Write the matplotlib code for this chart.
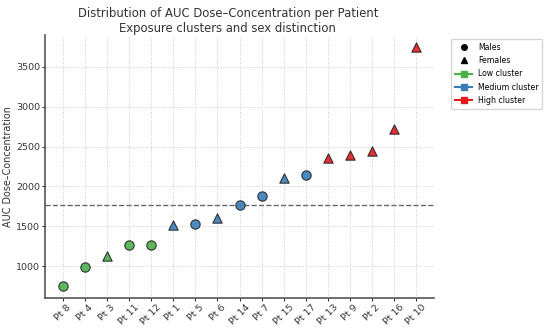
import numpy as np
import matplotlib
matplotlib.use("Agg")
import matplotlib.pyplot as plt
from matplotlib.lines import Line2D

# Data (sorted by AUC)
patients = ["Pt 8", "Pt 4", "Pt 3", "Pt 11", "Pt 12", "Pt 1", "Pt 5", "Pt 6", "Pt 14",
            "Pt 7", "Pt 15", "Pt 17", "Pt 13", "Pt 9", "Pt 2", "Pt 16", "Pt 10"]
auc = [750, 990, 1130, 1265, 1265, 1510, 1525, 1605, 1770,
       1885, 2100, 2140, 2360, 2400, 2440, 2720, 3750]
sex = ["M", "M", "F", "M", "M", "F", "M", "F", "M",
       "M", "F", "M", "F", "F", "F", "F", "F"]
cluster = ["Low", "Low", "Low", "Low", "Low", "Medium", "Medium", "Medium", "Medium",
           "Medium", "Medium", "Medium", "High", "High", "High", "High", "High"]

colors = {"Low": "#4daf4a", "Medium": "#377eb8", "High": "#e41a1c"}
markers = {"M": "o", "F": "^"}

fig = plt.figure(figsize=(5.5, 3.3), dpi=100)
ax = fig.add_axes([0.082, 0.097, 0.707, 0.797])

x = np.arange(len(patients))
for xi, yi, s, c in zip(x, auc, sex, cluster):
    ax.scatter(xi, yi, marker=markers[s], color=colors[c], edgecolor="#222222",
               linewidth=0.8, s=45, zorder=3, alpha=0.9)

# median reference line
ax.axhline(np.median(auc), color="#666666", linestyle="--", linewidth=1, zorder=2)

ax.set_xticks(x)
ax.set_xticklabels(patients, rotation=45, fontsize=6.8)
ax.tick_params(axis="y", labelsize=6.8, length=2, pad=1.5)
ax.tick_params(axis="x", length=2, pad=1.5)
ax.set_ylabel("AUC Dose–Concentration", fontsize=6.9, color="#333333", labelpad=2)
ax.set_title("Distribution of AUC Dose–Concentration per Patient\nExposure clusters and sex distinction",
             fontsize=8.4, color="#333333", x=0.47, pad=2.5)
ax.grid(True, linestyle=":", color="#cccccc", linewidth=0.7)
ax.set_axisbelow(True)
for side in ["top", "right"]:
    ax.spines[side].set_visible(False)
for side in ["left", "bottom"]:
    ax.spines[side].set_color("#555555")
    ax.spines[side].set_linewidth(1.2)
ax.tick_params(colors="#333333")

handles = [
    Line2D([], [], marker="o", color="black", linestyle="None", markersize=4, label="Males"),
    Line2D([], [], marker="^", color="black", linestyle="None", markersize=4, label="Females"),
    Line2D([], [], marker="s", color=colors["Low"], markersize=4, label="Low cluster"),
    Line2D([], [], marker="s", color=colors["Medium"], markersize=4, label="Medium cluster"),
    Line2D([], [], marker="s", color=colors["High"], markersize=4, label="High cluster"),
]
ax.legend(handles=handles, loc="upper left", bbox_to_anchor=(1.035, 1.0), fontsize=5.6,
          frameon=True, handlelength=2.1, labelspacing=0.55, borderpad=0.5)

fig.savefig("out.png", dpi=100)
